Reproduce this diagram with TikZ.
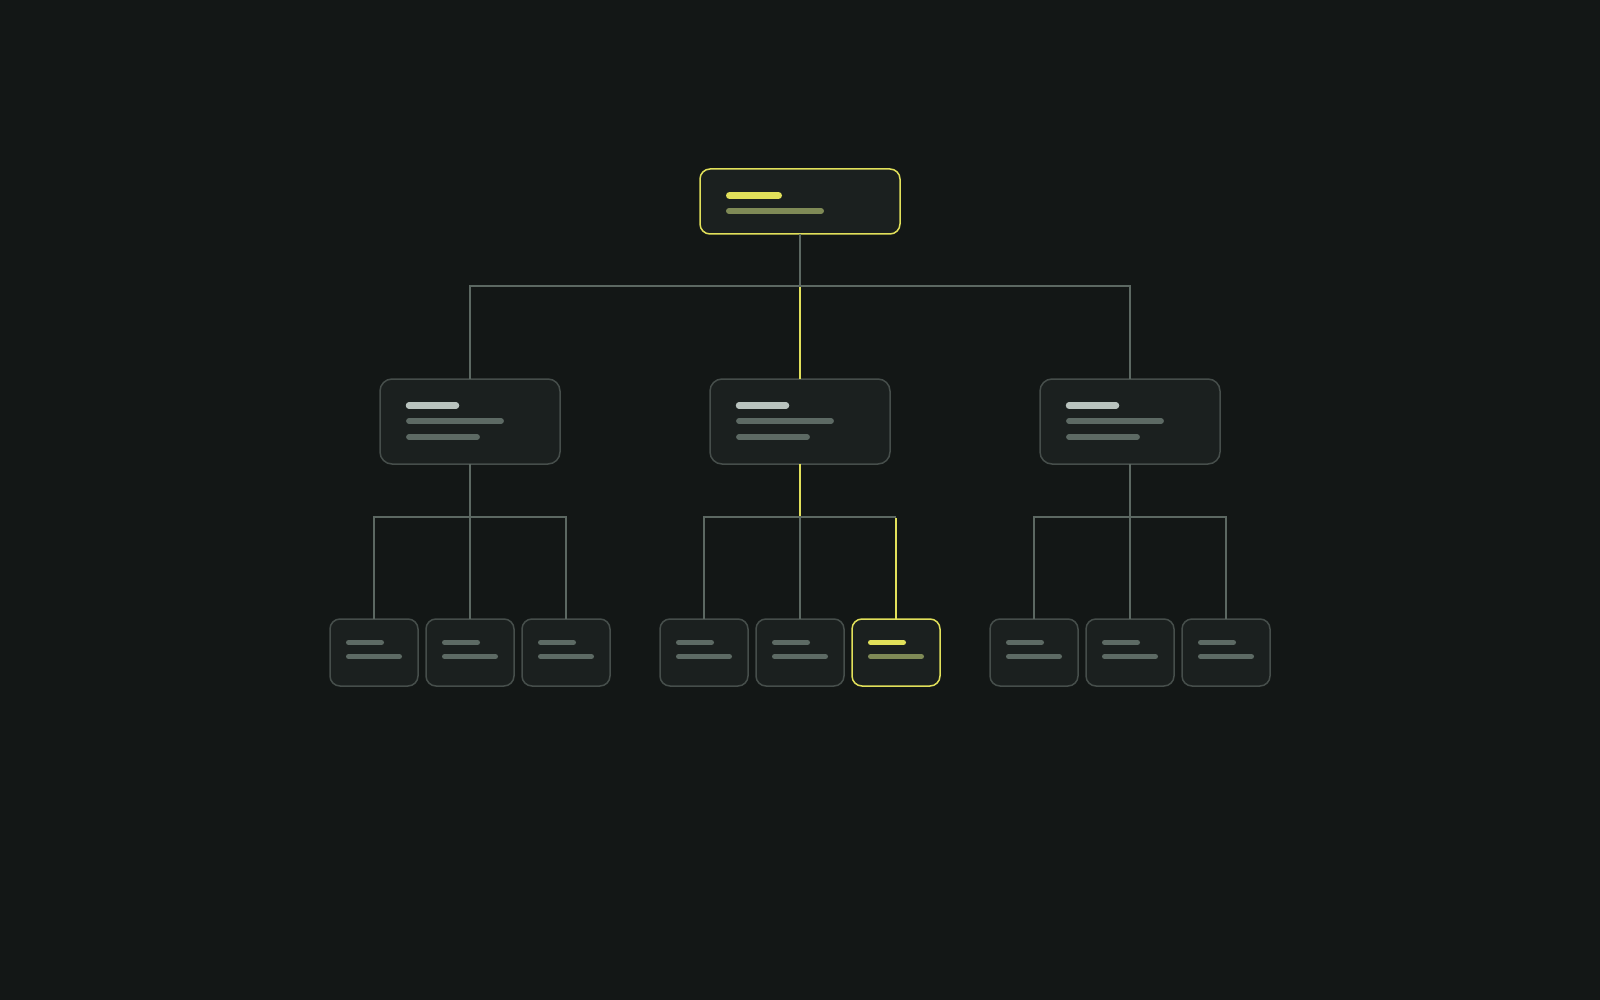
\documentclass[tikz,border=0pt]{standalone}
\usetikzlibrary{calc}
\definecolor{bg}{HTML}{131716}
\definecolor{boxfill}{HTML}{1B201F}
\definecolor{boxborder}{HTML}{464E4B}
\definecolor{wirecol}{HTML}{5C6862}
\definecolor{hl}{HTML}{E1E05A}
\definecolor{olive}{HTML}{7F8A56}
\definecolor{lightbar}{HTML}{B9C3BE}
\definecolor{graybar}{HTML}{5D6A64}
\begin{document}
\begin{tikzpicture}[x=1pt,y=-1pt,
  card/.style={draw=boxborder, fill=boxfill, line width=1.5pt, inner sep=0pt, outer sep=0pt},
  rootcard/.style={card, draw=hl, minimum width=200pt, minimum height=65pt, rounded corners=10pt},
  midcard/.style={card, minimum width=180pt, minimum height=85pt, rounded corners=12pt},
  leafcard/.style={card, minimum width=88pt, minimum height=67pt, rounded corners=10pt},
  hlcard/.style={draw=hl},
  wire/.style={draw=wirecol, line width=2pt, line join=miter},
  hlwire/.style={draw=hl, line width=2pt},
  barline/.style={line cap=round},
  topbar/.style={barline, draw=hl, line width=7pt},
  subbar/.style={barline, draw=olive, line width=6pt},
  midbarA/.style={barline, draw=lightbar, line width=6.5pt},
  midbarB/.style={barline, draw=graybar, line width=5.8pt},
  leafbarA/.style={barline, draw=graybar, line width=5pt},
  leafbarB/.style={barline, draw=graybar, line width=5pt},
  hlleafA/.style={barline, draw=hl, line width=5pt},
  hlleafB/.style={barline, draw=olive, line width=5pt}
]
\useasboundingbox[fill=bg] (0,0) rectangle (1600,1000);

% nodes
\node[rootcard] (root) at (800,201.5) {};
\node[midcard] (m1) at (470,421.5) {};
\node[midcard] (m2) at (800,421.5) {};
\node[midcard] (m3) at (1130,421.5) {};
\node[leafcard] (l11) at (374,652.5) {};
\node[leafcard] (l12) at (470,652.5) {};
\node[leafcard] (l13) at (566,652.5) {};
\node[leafcard] (l21) at (704,652.5) {};
\node[leafcard] (l22) at (800,652.5) {};
\node[leafcard, hlcard] (l23) at (896,652.5) {};
\node[leafcard] (l31) at (1034,652.5) {};
\node[leafcard] (l32) at (1130,652.5) {};
\node[leafcard] (l33) at (1226,652.5) {};

% bars in root
\draw[topbar] ([shift={(29.5,26.5)}]root.north west) -- ++(49,0);
\draw[subbar] ([shift={(29,42)}]root.north west) -- ++(92,0);

% bars in mid cards
\foreach \m in {m1,m2,m3}{
  \draw[midbarA] ([shift={(29,26.5)}]\m.north west) -- ++(47,0);
  \draw[midbarB] ([shift={(29,42)}]\m.north west) -- ++(92,0);
  \draw[midbarB] ([shift={(29,58)}]\m.north west) -- ++(68,0);
}

% bars in leaves
\foreach \l in {l11,l12,l13,l21,l22,l31,l32,l33}{
  \draw[leafbarA] ([shift={(18.5,23.5)}]\l.north west) -- ++(33,0);
  \draw[leafbarB] ([shift={(18.5,37.5)}]\l.north west) -- ++(51,0);
}
\draw[hlleafA] ([shift={(18.5,23.5)}]l23.north west) -- ++(33,0);
\draw[hlleafB] ([shift={(18.5,37.5)}]l23.north west) -- ++(51,0);

% connectors: root level
\coordinate (busA) at (800,286);
\draw[wire] (root.south) -- (busA);
\draw[hlwire] (busA) -- (m2.north);
\draw[wire] (m1.north) -- (busA -| m1.north) -- (busA -| m3.north) -- (m3.north);

% connectors: left group
\coordinate (busB1) at (470,516.5);
\draw[wire] (m1.south) -- (busB1) -- (l12.north);
\draw[wire] (l11.north) -- (busB1 -| l11.north) -- (busB1 -| l13.north) -- (l13.north);

% connectors: middle group
\coordinate (busB2) at (800,516.5);
\draw[hlwire] (m2.south) -- (busB2);
\draw[wire] (busB2) -- (l22.north);
\draw[hlwire] ([yshift=-1pt]busB2 -| l23.north) -- (l23.north);
\draw[wire] (l21.north) -- (busB2 -| l21.north) -- (busB2 -| l23.north);

% connectors: right group
\coordinate (busB3) at (1130,516.5);
\draw[wire] (m3.south) -- (busB3) -- (l32.north);
\draw[wire] (l31.north) -- (busB3 -| l31.north) -- (busB3 -| l33.north) -- (l33.north);
\end{tikzpicture}
\end{document}
